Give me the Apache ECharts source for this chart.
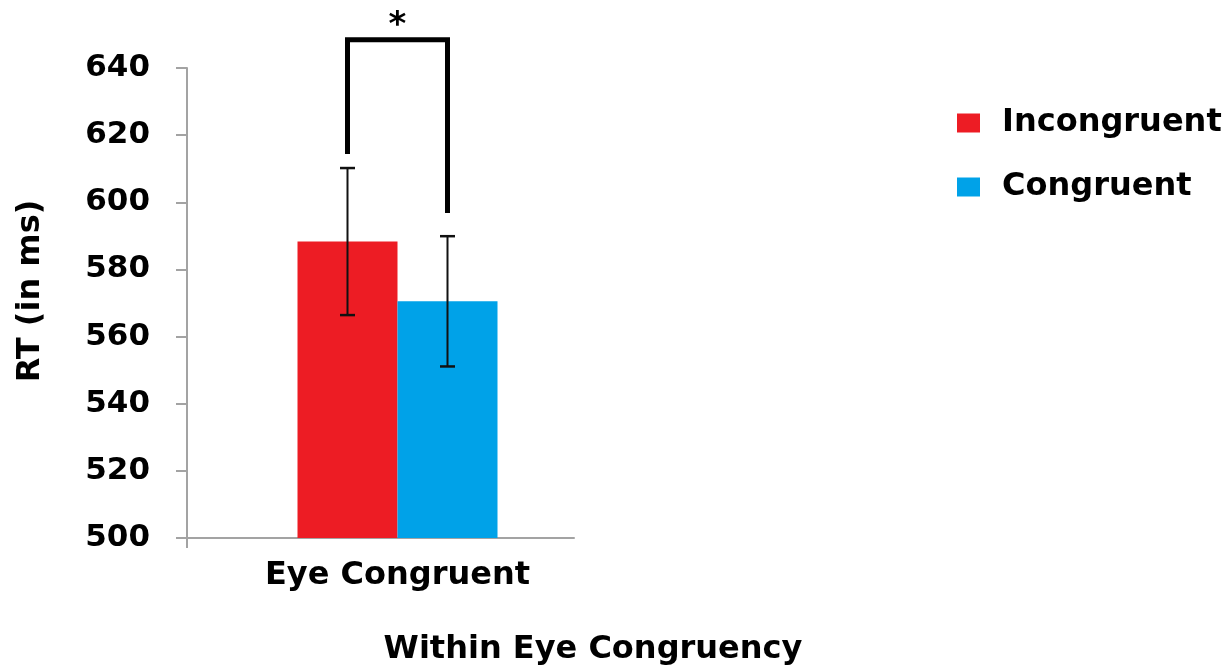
<!DOCTYPE html>
<html>
<head>
<meta charset="utf-8">
<script src="https://cdn.jsdelivr.net/npm/echarts@6/dist/echarts.min.js"></script>
<style>
  html, body { margin: 0; padding: 0; background: #fff; }
  #chart { width: 1228px; height: 672px; }
</style>
</head>
<body>
<div id="chart"></div>
<script>
// Mean reaction times (ms) with error bars, by condition
const categories = ['Eye Congruent'];
const seriesNames = ['Incongruent', 'Congruent'];
const meanRT = [588.3, 570.5];
const errorRT = [21.9, 19.4];
const yMin = 500;
const yMax = 640;
const yStep = 20;
// significance bracket: where each leg ends and the height of the bar joining them (ms)
const bracketEnds = [614.4, 596.8];
const bracketTop = 648.4;
const sigLabel = '*';

const FONT = 'DejaVu Sans';
const BAR_W = 100;
const COLORS = ['#ED1C24', '#00A2E8'];
const AXIS_GREY = '#a3a3a3';

const chart = echarts.init(document.getElementById('chart'), null, { renderer: 'canvas' });

// error bar items: [category index, group index, low, high]
const errorData = meanRT.map((m, i) => [0, i, m - errorRT[i], m + errorRT[i]]);

const option = {
  backgroundColor: '#fff',
  animation: false,
  textStyle: { fontFamily: FONT },
  title: {
    text: 'Within Eye Congruency',
    left: 593,
    top: 634,
    textAlign: 'center',
    padding: 0,
    textStyle: { fontFamily: FONT, fontWeight: 'bold', fontSize: 32, color: '#000' }
  },
  legend: {
    data: seriesNames,
    orient: 'vertical',
    left: 957,
    top: 107,
    padding: 0,
    itemWidth: 23,
    itemHeight: 19,
    itemGap: 32,
    icon: 'rect',
    textStyle: { fontFamily: FONT, fontWeight: 'bold', fontSize: 32, color: '#000', padding: [0, 0, 0, 17] }
  },
  grid: [
    // frame grid: carries the visible axes
    { left: 187, width: 387, top: 68, height: 470 },
    // bar grid: positions the category and its bars
    { left: 187, width: 421, top: 68, height: 470 }
  ],
  xAxis: [
    {
      gridIndex: 0, type: 'value', min: 0, max: 1, interval: 1,
      axisLine: { show: true, lineStyle: { color: AXIS_GREY, width: 2 } },
      axisTick: { show: true, length: 10, customValues: [0], lineStyle: { color: AXIS_GREY, width: 2 } },
      axisLabel: { show: false },
      splitLine: { show: false }
    },
    {
      gridIndex: 1, type: 'category', data: categories,
      axisLine: { show: false },
      axisTick: { show: false },
      axisLabel: { margin: 22, fontFamily: FONT, fontWeight: 'bold', fontSize: 32, color: '#000' }
    }
  ],
  yAxis: [
    {
      gridIndex: 0, type: 'value', min: yMin, max: yMax, interval: yStep,
      name: 'RT (in ms)', nameLocation: 'middle', nameGap: 140, nameRotate: 90,
      nameTextStyle: { fontFamily: FONT, fontWeight: 'bold', fontSize: 32, color: '#000', padding: [0, 0, 0, 24] },
      axisLine: { show: true, lineStyle: { color: AXIS_GREY, width: 2 } },
      axisTick: { show: true, length: 11, lineStyle: { color: AXIS_GREY, width: 2 } },
      axisLabel: { margin: 37, fontFamily: FONT, fontWeight: 'bold', fontSize: 31, color: '#000' },
      splitLine: { show: false }
    },
    { gridIndex: 1, type: 'value', min: yMin, max: yMax, interval: yStep, show: false, splitLine: { show: false } }
  ],
  series: [
    ...seriesNames.map((name, i) => ({
      name,
      type: 'bar',
      xAxisIndex: 1,
      yAxisIndex: 1,
      data: [meanRT[i]],
      barWidth: BAR_W,
      barGap: '0%',
      itemStyle: { color: COLORS[i] },
      z: 2
    })),
    {
      type: 'custom',
      xAxisIndex: 1,
      yAxisIndex: 1,
      clip: false,
      z: 5,
      encode: { x: 0, y: [2, 3] },
      data: errorData,
      renderItem(params, api) {
        const dx = (api.value(1) - 0.5) * BAR_W;
        const lo = api.coord([api.value(0), api.value(2)]);
        const hi = api.coord([api.value(0), api.value(3)]);
        const x = lo[0] + dx;
        const cap = 7.5;
        const stem = { stroke: '#111', lineWidth: 2 };
        const capStyle = { stroke: '#111', lineWidth: 2.5 };
        return {
          type: 'group',
          children: [
            { type: 'line', shape: { x1: x, y1: hi[1], x2: x, y2: lo[1] }, style: stem },
            { type: 'line', shape: { x1: x - cap, y1: hi[1], x2: x + cap, y2: hi[1] }, style: capStyle },
            { type: 'line', shape: { x1: x - cap, y1: lo[1], x2: x + cap, y2: lo[1] }, style: capStyle }
          ]
        };
      }
    },
    {
      type: 'custom',
      xAxisIndex: 1,
      yAxisIndex: 1,
      clip: false,
      z: 6,
      encode: { x: 0, y: [1, 2, 3] },
      data: [[0, bracketEnds[0], bracketEnds[1], bracketTop]],
      renderItem(params, api) {
        const c = api.coord([api.value(0), api.value(3)]);
        const xl = c[0] - BAR_W / 2;
        const xr = c[0] + BAR_W / 2;
        const yTop = c[1];
        const yl = api.coord([api.value(0), api.value(1)])[1];
        const yr = api.coord([api.value(0), api.value(2)])[1];
        return {
          type: 'group',
          children: [
            {
              type: 'polyline',
              shape: { points: [[xl, yl], [xl, yTop], [xr, yTop], [xr, yr]] },
              style: { stroke: '#000', lineWidth: 5, fill: null, lineJoin: 'miter', lineCap: 'butt' }
            },
            {
              type: 'text',
              x: c[0],
              y: yTop + 3,
              style: {
                text: sigLabel, fill: '#000', fontFamily: FONT, fontWeight: 'bold', fontSize: 34,
                align: 'center', verticalAlign: 'bottom'
              }
            }
          ]
        };
      }
    }
  ]
};

chart.setOption(option);
</script>
</body>
</html>
